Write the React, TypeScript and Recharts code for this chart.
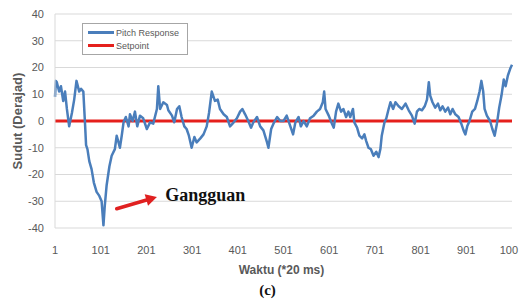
import React from 'react';
import { LineChart, Line, XAxis, YAxis, CartesianGrid, Legend, ReferenceLine, ReferenceDot } from 'recharts';

const TIME = [1,3,5,10,14,19,23,27,32,38,43,48,54,58,63,67,69,72,76,81,86,92,98,103,107,110,114,120,125,132,136,140,143,147,151,156,162,165,171,176,181,187,194,202,209,216,224,227,231,238,246,249,257,262,268,273,278,284,289,294,300,306,311,319,326,333,338,344,351,357,362,370,377,384,392,399,406,411,417,424,430,435,443,450,457,465,468,474,479,487,494,501,508,516,522,527,534,539,545,552,559,567,574,581,587,590,593,600,607,611,616,621,627,632,638,643,647,653,656,662,667,673,678,682,687,692,698,704,709,713,716,722,726,731,735,741,746,753,760,768,775,782,788,793,798,804,810,815,819,822,827,833,839,844,849,855,861,866,871,877,884,890,895,899,903,908,914,920,925,930,934,938,941,946,953,958,963,968,973,978,983,987,992,997,1001];

const PITCH = [9,15,14.5,11,13,7.5,11,4.5,-2,3,8,15,11,12,11,-2,-9,-10.5,-15,-18,-23,-26.5,-28,-30,-39,-31.5,-24,-17,-13,-10.5,-5.5,-8,-10,-5.5,-0.5,1.5,-2,2.5,0,3.5,-2,2,1,-3,-0.5,-1,4.5,13,4.5,7,6,4,2,-0.5,4.5,5.5,1.5,-2,-3,-5.5,-10,-6,-8,-6.5,-5,-2,3,11,7.5,8,4.5,2.5,1.5,-2,-0.5,1,3.5,4.5,2.5,0,-2.5,-0.5,1.5,-2,-3.5,-8,-10,-3,-1,1.5,0,0,2,-2,-5,-0.5,1.5,-2,0,-2,1,2,3.5,4.5,7,11,4.5,2,-1,-2.5,3.5,6.5,3.5,4.5,1.5,3.5,1.5,4.5,-0.5,-2.5,-5.5,-6.5,-5,-7.5,-10,-10.5,-13,-11.5,-13.5,-10.5,-5.5,-0.5,1,4.5,7,4.5,7,5.5,4.5,6.5,4,2,-1,3.5,4.5,4,5.5,8,14.5,9.5,7,5,6.5,4,5.5,3.5,5,2.5,4.5,2.5,1.5,-1,-3.5,-5,-2,0,3.5,4.5,7.5,11,15,11,4.5,2,0,-3,-5.5,-1,5,9.5,15.5,13,17,19.5,21];

const SETPOINT_VALUE = 0;

const X_TICKS = [1,101,201,301,401,501,601,701,801,901,1001];
const X_TICK_LABELS = ['1','101','201','301','401','501','601','701','801','901','100'];
const Y_TICKS = [-40,-30,-20,-10,0,10,20,30,40];

const SERIES = [
  { key: 'pitch', name: 'Pitch Response', color: '#4a7ebb' },
  { key: 'setpoint', name: 'Setpoint', color: '#e5201c' },
];

const ARROW_FROM = { t: 136, v: -32.8 };
const ARROW_TO = { t: 224, v: -28.4 };
const NOTE_AT = { t: 242, v: -27.6 };
const NOTE_TEXT = 'Gangguan';

const data = TIME.map((t, i) => ({ t, pitch: PITCH[i], setpoint: SETPOINT_VALUE }));

const SANS = '"Liberation Sans", Arial, sans-serif';
const SERIF = '"Liberation Serif", "Times New Roman", serif';

const LegendBox = () => (
  <div style={{ border: '1px solid #a6a6a6', background: '#fff', width: 106, height: 32, boxSizing: 'border-box', padding: '2px 0 0 5px', fontFamily: SANS, fontSize: 9, color: '#595959' }}>
    {SERIES.map((s) => (
      <div key={s.key} style={{ display: 'flex', alignItems: 'center', height: 13 }}>
        <span style={{ display: 'inline-block', width: 26, height: 3, background: s.color, marginRight: 2 }} />
        <span>{s.name}</span>
      </div>
    ))}
  </div>
);

const XTick = (p: any) => {
  const { x, y, payload, index } = p;
  const label = X_TICK_LABELS[X_TICKS.indexOf(payload.value)] ?? String(payload.value);
  const last = index === X_TICKS.length - 1;
  return (
    <text x={last ? 518 - 0 : x} y={y} dy="0.71em" textAnchor={last ? 'end' : 'middle'} fontFamily={SANS} fontSize={11} fill="#595959">
      {label}
    </text>
  );
};

const Arrow = (p: any) => {
  const { x1, y1, x2, y2 } = p;
  const dx = x2 - x1, dy = y2 - y1;
  const len = Math.sqrt(dx * dx + dy * dy) || 1;
  const ux = dx / len, uy = dy / len;
  const hl = 11, hw = 6;
  const bx = x2 - ux * hl, by = y2 - uy * hl;
  const pts = `${x2},${y2} ${bx - uy * hw},${by + ux * hw} ${bx + uy * hw},${by - ux * hw}`;
  return (
    <g>
      <line x1={x1} y1={y1} x2={bx + ux * 2} y2={by + uy * 2} stroke="#e02020" strokeWidth={3.5} strokeLinecap="round" />
      <polygon points={pts} fill="#e02020" />
    </g>
  );
};

const Note = (p: any) => (
  <text x={p.cx} y={p.cy} fontFamily={SERIF} fontWeight="bold" fontSize={18} fill="#111" dominantBaseline="central" textAnchor="start">
    {NOTE_TEXT}
  </text>
);

const XLabel = (p: any) => {
  const vb = p.viewBox;
  const cx = vb.x + vb.width / 2;
  return (
    <g>
      <text x={cx - 2} y={vb.y + 42} textAnchor="middle" dominantBaseline="central" fontFamily={SANS} fontWeight="bold" fontSize={12} fill="#595959">Waktu (*20 ms)</text>
      <text x={cx - 16} y={vb.y + 62} textAnchor="middle" dominantBaseline="central" fontFamily={SERIF} fontWeight="bold" fontSize={15} fill="#111">(c)</text>
    </g>
  );
};

const YLabel = (p: any) => {
  const vb = p.viewBox;
  const x = vb.x + 17;
  const y = vb.y + vb.height / 2;
  return (
    <text x={x} y={y} transform={`rotate(-90, ${x}, ${y})`} textAnchor="middle" dominantBaseline="central" fontFamily={SANS} fontWeight="bold" fontSize={13} fill="#595959">Sudut (Derajad)</text>
  );
};

export default function App() {
  return (
    <div style={{ position: 'absolute', left: 0, top: 0, width: 519, height: 302, background: '#fff' }}>
      <LineChart width={519} height={302} data={data} margin={{ top: 14, right: 7, bottom: 0, left: 0 }}>
        <CartesianGrid vertical={false} stroke="#d9d9d9" />
        <XAxis
          dataKey="t"
          type="number"
          domain={[1, 1001]}
          ticks={X_TICKS}
          interval={0}
          height={74}
          axisLine={false}
          tickLine={false}
          tickSize={0}
          tickMargin={18}
          tick={XTick}
          label={XLabel}
        />
        <YAxis
          type="number"
          domain={[-40, 40]}
          ticks={Y_TICKS}
          interval={0}
          width={55}
          axisLine={{ stroke: '#d9d9d9' }}
          tickLine={false}
          tickSize={0}
          tickMargin={11}
          tick={{ fontFamily: SANS, fontSize: 11, fill: '#595959' }}
          label={YLabel}
        />
        <Legend layout="vertical" align="center" verticalAlign="middle" content={LegendBox} wrapperStyle={{ left: 82, top: 23, width: 106, height: 32 }} />
        <Line dataKey="setpoint" name={SERIES[1].name} stroke={SERIES[1].color} strokeWidth={3} dot={false} isAnimationActive={false} type="linear" />
        <Line dataKey="pitch" name={SERIES[0].name} stroke={SERIES[0].color} strokeWidth={2.5} strokeLinejoin="round" dot={false} isAnimationActive={false} type="linear" />
        <ReferenceLine segment={[{ x: ARROW_FROM.t, y: ARROW_FROM.v }, { x: ARROW_TO.t, y: ARROW_TO.v }]} shape={Arrow} />
        <ReferenceDot x={NOTE_AT.t} y={NOTE_AT.v} r={0} shape={Note} />
      </LineChart>
    </div>
  );
}
